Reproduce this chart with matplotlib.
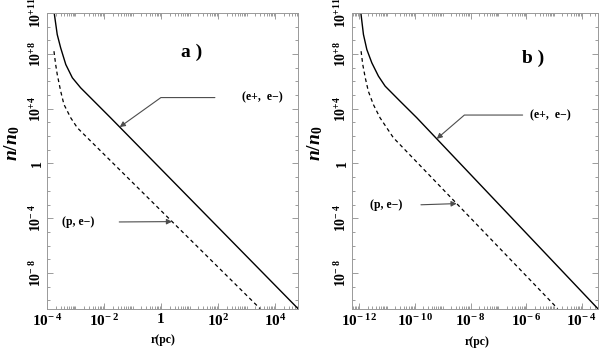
import numpy as np
import matplotlib
matplotlib.use('Agg')
import matplotlib.pyplot as plt
from matplotlib.ticker import LogLocator, NullFormatter

plt.rcParams['font.family'] = ['Liberation Serif', 'DejaVu Serif']
plt.rcParams['font.weight'] = 'bold'
plt.rcParams['mathtext.fontset'] = 'custom'
plt.rcParams['mathtext.rm'] = 'Liberation Serif:bold'
plt.rcParams['mathtext.bf'] = 'Liberation Serif:bold'
plt.rcParams['mathtext.it'] = 'Liberation Serif:italic:bold'

# curves, as log10 values
# panel a
logr_a_pair = [-3.76, -3.64, -3.52, -3.34, -3.11, -2.82, -2.35, -1.77, 4.8]
logn_a_pair = [11.2, 9.42, 8.45, 7.23, 6.26, 5.53, 4.55, 3.34, -10.6]
logr_a_prot = [-3.754, -3.695, -3.639, -3.519, -3.404, -3.168, -2.937, -2.586, 3.47]
logn_a_prot = [8.20, 7.23, 6.50, 5.28, 4.31, 3.34, 2.61, 1.88, -10.6]
# panel b
logr_b_pair = [-11.95, -11.845, -11.723, -11.544, -11.307, -11.067, -10.53, -9.93, -3.43]
logn_b_pair = [11.2, 9.42, 8.32, 7.35, 6.38, 5.65, 4.55, 3.34, -10.6]
logr_b_prot = [-11.93, -11.87, -11.78, -11.67, -11.49, -11.25, -11.01, -10.77, -4.87]
logn_b_prot = [8.20, 7.23, 6.26, 5.28, 4.31, 3.34, 2.61, 1.88, -10.6]

xlim_a = (-4.0, 4.8)
xlim_b = (-12.25, -3.43)
ylim = (-10.63, 11.0)

xticks_a = [-4, -2, 0, 2, 4]
xlabels_a = [r'$10^{-\;4}$', r'$10^{-\;2}$', '1', r'$10^{2}$', r'$10^{4}$']
xticks_b = [-12, -10, -8, -6, -4]
xlabels_b = [r'$10^{-\;12}$', r'$10^{-\;10}$', r'$10^{-\;8}$', r'$10^{-\;6}$', r'$10^{-\;4}$']
yticks = [11, 8, 4, 0, -4, -8]
ylabels = [r'$10^{+11}$', r'$10^{+8}$', r'$10^{+4}$', '1', r'$10^{-\;4}$', r'$10^{-\;8}$']

fig = plt.figure(figsize=(6.02, 3.48), dpi=100)
ax_a = fig.add_axes([0.078, 0.112, 0.417, 0.851])
ax_b = fig.add_axes([0.585, 0.112, 0.408, 0.851])

panels = [
    (ax_a, logr_a_pair, logn_a_pair, logr_a_prot, logn_a_prot, xlim_a, xticks_a, xlabels_a),
    (ax_b, logr_b_pair, logn_b_pair, logr_b_prot, logn_b_prot, xlim_b, xticks_b, xlabels_b),
]

for ax, rp, npair, rq, nq, xl, xt, xlab in panels:
    ax.plot(10.0 ** np.array(rp), 10.0 ** np.array(npair), color='black', lw=1.0)
    ax.plot(10.0 ** np.array(rq), 10.0 ** np.array(nq), color='black', lw=0.9,
            linestyle=(0, (3, 2.5)))
    ax.set_xscale('log')
    ax.set_yscale('log')
    ax.set_xlim(10.0 ** xl[0], 10.0 ** xl[1])
    ax.set_ylim(10.0 ** ylim[0], 10.0 ** ylim[1])
    ax.set_xticks([10.0 ** t for t in xt], labels=xlab, fontsize=11)
    ax.set_yticks([10.0 ** t for t in yticks], labels=ylabels, fontsize=10,
                  rotation=90, va='center')
    ax.xaxis.set_minor_locator(LogLocator(base=10, subs=np.arange(1, 10), numticks=100))
    ax.yaxis.set_minor_locator(LogLocator(base=10, subs=(1.0,), numticks=100))
    ax.xaxis.set_minor_formatter(NullFormatter())
    ax.yaxis.set_minor_formatter(NullFormatter())
    ax.tick_params(which='both', direction='in', top=True, right=True, color='0.55', width=0.6)
    ax.tick_params(which='major', length=4)
    ax.tick_params(which='minor', length=2)
    ax.tick_params(axis='x', pad=3)
    ax.tick_params(axis='y', pad=2)
    for s in ax.spines.values():
        s.set_color('0.6')
        s.set_linewidth(0.7)
    ax.set_xlabel('r(pc)', fontsize=8.5, fontweight='bold')
    ax.set_ylabel(r'$n/n_0$', fontsize=14)

ax_a.text(0.578, 0.868, 'a )', transform=ax_a.transAxes, fontsize=14,
          fontweight='bold', ha='center', va='center')
ax_b.text(0.736, 0.848, 'b )', transform=ax_b.transAxes, fontsize=14,
          fontweight='bold', ha='center', va='center')

ax_a.xaxis.set_label_coords(0.462, -0.085)
ax_b.xaxis.set_label_coords(0.508, -0.09)
ax_a.yaxis.set_label_coords(-0.1, 0.56)
ax_b.yaxis.set_label_coords(-0.11, 0.56)

arrow_kw = dict(arrowstyle='-|>', color='0.3', lw=0.8, mutation_scale=8, shrinkA=0, shrinkB=0)

# panel a labels
ax_a.annotate('', xy=(10 ** -1.45, 10 ** 2.66), xycoords='data',
              xytext=(0.669, 0.714), textcoords='axes fraction',
              arrowprops=dict(connectionstyle='angle,angleA=0,angleB=35.6,rad=0', **arrow_kw))
ax_a.text(0.777, 0.714, '(e+,  e\u2212)', transform=ax_a.transAxes, fontsize=8.5,
          fontweight='bold', ha='left', va='center')
ax_a.annotate('', xy=(10 ** 0.386, 10 ** -4.245), xycoords='data',
              xytext=(0.288, 0.294), textcoords='axes fraction',
              arrowprops=dict(**arrow_kw))
ax_a.text(0.06, 0.294, '(p, e\u2212)', transform=ax_a.transAxes, fontsize=8.5,
          fontweight='bold', ha='left', va='center')

# panel b labels
ax_b.annotate('', xy=(10 ** -9.214, 10 ** 1.80), xycoords='data',
              xytext=(0.694, 0.655), textcoords='axes fraction',
              arrowprops=dict(connectionstyle='angle,angleA=0,angleB=40.7,rad=0', **arrow_kw))
ax_b.text(0.724, 0.655, '(e+,  e\u2212)', transform=ax_b.transAxes, fontsize=8.5,
          fontweight='bold', ha='left', va='center')
ax_b.annotate('', xy=(10 ** -8.497, 10 ** -2.93), xycoords='data',
              xytext=(0.280, 0.352), textcoords='axes fraction',
              arrowprops=dict(**arrow_kw))
ax_b.text(0.073, 0.352, '(p, e\u2212)', transform=ax_b.transAxes, fontsize=8.5,
          fontweight='bold', ha='left', va='center')

fig.savefig('out.png', dpi=100)
